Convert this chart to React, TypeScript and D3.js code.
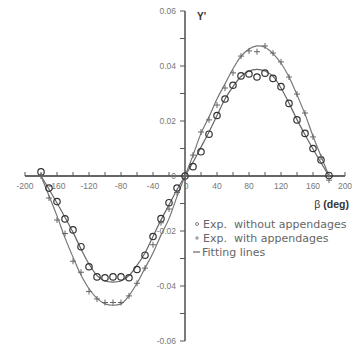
import React from 'react';
import * as d3 from 'd3';

// beta angles (deg) for the measured points
const betas = [-180, -170, -160, -150, -140, -130, -120, -110, -100, -90, -80, -70, -60, -50, -40, -30, -20, -10,
  0, 10, 20, 30, 40, 50, 60, 70, 80, 90, 100, 110, 120, 130, 140, 150, 160, 170, 180];

// Exp. without appendages (circles)
const withoutApp = [0.0015, -0.0044, -0.0093, -0.0156, -0.0196, -0.0257, -0.033, -0.0367, -0.037, -0.0367, -0.0367, -0.037, -0.034, -0.0288, -0.022, -0.0155, -0.0097, -0.0044,
  0, 0.0034, 0.0088, 0.0152, 0.022, 0.028, 0.033, 0.0364, 0.0371, 0.036, 0.0374, 0.0355, 0.0325, 0.0264, 0.0204, 0.0155, 0.01, 0.0058, 0.0002];

// Exp. with appendages (plus)
const withApp = [0, -0.008, -0.016, -0.0209, -0.031, -0.035, -0.042, -0.0447, -0.046, -0.046, -0.046, -0.0436, -0.039, -0.0335, -0.025, -0.017, -0.012, -0.006,
  0, 0.0076, 0.016, 0.0204, 0.0258, 0.032, 0.0375, 0.0436, 0.0455, 0.0452, 0.0473, 0.0447, 0.0415, 0.036, 0.0298, 0.0229, 0.0142, 0.0069, -0.0015];

// fitting lines, read every 10 deg
const fitWithout = [0, -0.0048, -0.0098, -0.015, -0.0205, -0.0265, -0.032, -0.0362, -0.0382, -0.0386, -0.0382, -0.0362, -0.0325, -0.028, -0.022, -0.016, -0.0105, -0.005,
  0, 0.005, 0.0105, 0.016, 0.022, 0.028, 0.0325, 0.0362, 0.0382, 0.0388, 0.0382, 0.0362, 0.032, 0.0265, 0.0205, 0.015, 0.0098, 0.0048, 0];
const fitWith = [0, -0.0072, -0.0145, -0.0225, -0.0295, -0.036, -0.041, -0.0445, -0.0465, -0.047, -0.0465, -0.0435, -0.039, -0.0335, -0.028, -0.0215, -0.0155, -0.0075,
  0, 0.0075, 0.0155, 0.0215, 0.028, 0.0335, 0.039, 0.0435, 0.0462, 0.0473, 0.0468, 0.0445, 0.041, 0.036, 0.0295, 0.0225, 0.0145, 0.0072, 0];

const xTicks = [-200, -160, -120, -80, -40, 0, 40, 80, 120, 160, 200];
const yTicks = [0.06, 0.04, 0.02, 0, -0.02, -0.04, -0.06];
const legendItems = ['Exp.  without appendages', 'Exp.  with appendages', 'Fitting lines'];

const W = 355;
const H = 352;
const font = '"Liberation Sans", Arial, sans-serif';

export default function App() {
  const x = d3.scaleLinear().domain([-200, 200]).range([25, 345]);
  const y = d3.scaleLinear().domain([-0.06, 0.06]).range([341, 11]);
  const x0 = x(0);
  const y0 = y(0);

  const line = d3.line<number>()
    .x((_, i) => x(betas[i]))
    .y(d => y(d))
    .curve(d3.curveCatmullRom);

  const minorX = d3.range(-200, 201, 20);
  const minorY = d3.range(-6, 7).map(v => v / 100);

  return (
    <svg width={W} height={H} style={{ position: 'absolute', left: 0, top: 0, background: '#fff' }} fontFamily={font}>
      {/* axes */}
      <line x1={x(-200)} x2={x(200)} y1={y0} y2={y0} stroke="#333" strokeWidth={1.3} />
      <line x1={x0} x2={x0} y1={y(0.06)} y2={y(-0.06)} stroke="#333" strokeWidth={1.3} />
      {minorX.map(v => (
        <line key={'xt' + v} x1={x(v)} x2={x(v)} y1={y0} y2={y0 - 4} stroke="#555" strokeWidth={1} />
      ))}
      {minorY.map(v => (
        <line key={'yt' + v} x1={x0} x2={x0 - 5} y1={y(v)} y2={y(v)} stroke="#555" strokeWidth={1} />
      ))}
      {xTicks.map(v => (
        <text key={'xl' + v} x={x(v) + (v === 0 ? 1 : 0)} y={y0 + 13} fontSize={8.5} fill="#777" textAnchor="middle">{v}</text>
      ))}
      {yTicks.map(v => (
        <text key={'yl' + v} x={x0 - 9} y={y(v) + 3} fontSize={8.5} fill="#777" textAnchor="end">
          {v === 0 ? '0' : v.toFixed(2)}
        </text>
      ))}
      <text x={x0 + 12} y={y(0.06) + 9} fontSize={10} fontWeight="bold" fill="#333">Y'</text>
      <text x={349} y={y0 + 32} fontSize={10.5} fill="#333" textAnchor="end">
        β <tspan fontWeight="bold">(deg)</tspan>
      </text>

      {/* fitting lines */}
      <path d={line(fitWithout) || ''} fill="none" stroke="#666" strokeWidth={1.2} />
      <path d={line(fitWith) || ''} fill="none" stroke="#777" strokeWidth={1.2} />

      {/* points */}
      {withoutApp.map((v, i) => (
        <circle key={'c' + i} cx={x(betas[i])} cy={y(v)} r={3.2} fill="none" stroke="#333" strokeWidth={1.2} />
      ))}
      {withApp.map((v, i) => (
        <g key={'p' + i} stroke="#666" strokeWidth={1}>
          <line x1={x(betas[i]) - 3} x2={x(betas[i]) + 3} y1={y(v)} y2={y(v)} />
          <line x1={x(betas[i])} x2={x(betas[i])} y1={y(v) - 3} y2={y(v) + 3} />
        </g>
      ))}

      {/* legend */}
      <g fontSize={11} fill="#666" fontFamily='"DejaVu Sans", Verdana, sans-serif'>
        {legendItems.map((t, i) => {
          const ly = 228 + i * 14;
          return (
            <g key={t}>
              {i === 0 && <circle cx={197} cy={ly - 4} r={1.5} fill="none" stroke="#888" strokeWidth={1} />}
              {i === 1 && (
                <g stroke="#888" strokeWidth={1}>
                  <line x1={195} x2={199} y1={ly - 4} y2={ly - 4} />
                  <line x1={197} x2={197} y1={ly - 6} y2={ly - 2} />
                </g>
              )}
              {i === 2 && <line x1={193} x2={200} y1={ly - 4} y2={ly - 4} stroke="#666" strokeWidth={1.2} />}
              <text x={i === 2 ? 202 : 203} y={ly} xmlSpace="preserve">{t}</text>
            </g>
          );
        })}
      </g>
    </svg>
  );
}
